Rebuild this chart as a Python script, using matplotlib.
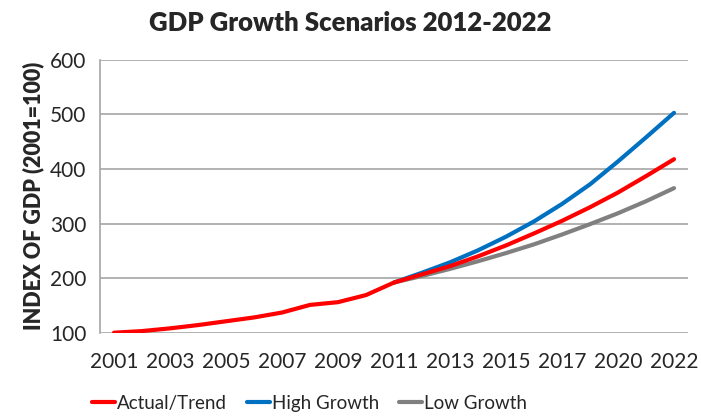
import matplotlib

matplotlib.use("Agg")
import matplotlib.pyplot as plt

# one year between 2017 and 2020 is absent from the category axis
YEARS = [str(y) for y in range(2001, 2019)] + ["2020", "2021", "2022"]

ACTUAL = [100, 103, 108, 114, 121, 128, 137, 151, 156, 169, 192,
          207, 222, 240, 260, 282, 305, 330, 357, 387, 418]
HIGH = [None] * 10 + [192, 210, 229, 251, 276, 304, 336, 372, 414, 458, 503]
LOW = [None] * 10 + [192, 204, 217, 231, 246, 262, 280, 299, 319, 341, 365]

TICK_LABELS = YEARS[::2]
YTICKS = [100, 200, 300, 400, 500, 600]

TEXT = "#262626"


def _clean(series):
    xs = [i for i, v in enumerate(series) if v is not None]
    return xs, [series[i] for i in xs]


def main():
    plt.rcParams["font.family"] = ["Lato", "DejaVu Sans"]
    fig = plt.figure(figsize=(7.01, 4.16), dpi=100)
    ax = fig.add_axes([0.1427, 0.2002, 0.8388, 0.6558])

    x, y = _clean(HIGH)
    ax.plot(x, y, color="#0070C0", lw=3, solid_capstyle="round", label="High Growth", zorder=3)
    x, y = _clean(LOW)
    ax.plot(x, y, color="#808080", lw=3, solid_capstyle="round", label="Low Growth", zorder=3)
    x, y = _clean(ACTUAL)
    ax.plot(x, y, color="#FF0000", lw=3, solid_capstyle="round", label="Actual/Trend", zorder=4)

    ax.set_xlim(-0.5, len(YEARS) - 0.5)
    ax.set_ylim(100, 600)
    ax.set_yticks(YTICKS)
    ax.set_xticks(range(0, len(YEARS), 2))
    ax.set_xticklabels(TICK_LABELS)
    ax.tick_params(axis="both", length=0, labelsize=15, colors=TEXT)
    ax.tick_params(axis="x", pad=14)
    ax.tick_params(axis="y", pad=10)
    ax.grid(axis="y", color="#A6A6A6", lw=1.2)
    for s in ("top", "right", "bottom"):
        ax.spines[s].set_visible(False)
    ax.spines["left"].set_color("#A6A6A6")
    ax.spines["left"].set_linewidth(1.2)
    ax.set_axisbelow(True)

    ax.set_ylabel("INDEX OF GDP (2001=100)", fontsize=15.5, fontweight="heavy", color=TEXT, labelpad=4)
    fig.text(0.5, 0.945, "GDP Growth Scenarios 2012-2022", ha="center", va="center",
             fontsize=18.5, fontweight="heavy", color=TEXT)

    handles, labels = ax.get_legend_handles_labels()
    order = [2, 0, 1]
    fig.legend([handles[i] for i in order], [labels[i] for i in order],
               loc="center", bbox_to_anchor=(0.4415, 0.03), ncol=3, frameon=False,
               fontsize=13.5, handlelength=1.2, handletextpad=0.1, columnspacing=1.1,
               labelcolor=TEXT)

    fig.savefig("out.png", dpi=100)


if __name__ == "__main__":
    main()
